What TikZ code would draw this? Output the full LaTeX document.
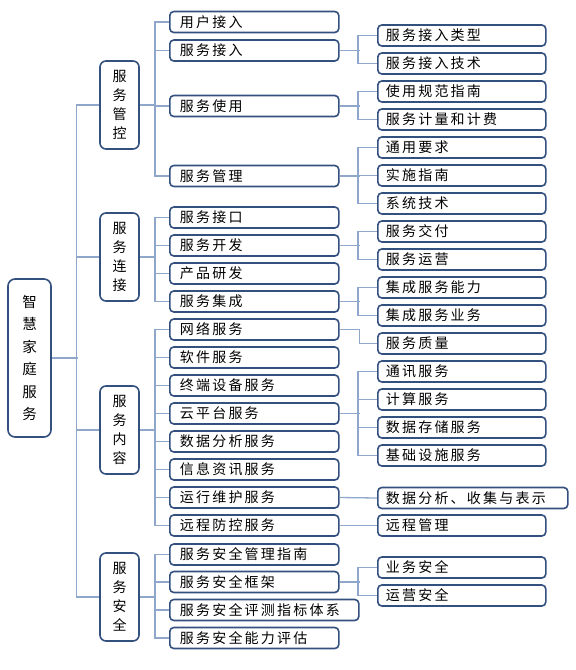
\documentclass[tikz,border=0pt]{standalone}
\usepackage{fontspec}
\newfontfamily\cjk[LetterSpace=16]{Noto Sans CJK SC}
\newfontfamily\cjkv{Noto Sans CJK SC}
\definecolor{boxline}{HTML}{34507F}
\definecolor{connline}{HTML}{8EA7CB}
\begin{document}
\begin{tikzpicture}[x=1pt,y=-1pt,
  basebox/.style={draw=boxline, line width=1.6pt, fill=white, rounded corners=4pt, font=\cjk\fontsize{14}{16}\selectfont, inner ysep=0pt},
  mbox/.style={basebox, anchor=west, minimum height=21pt, text width=149pt, align=left, inner xsep=10pt},
  rbox/.style={basebox, anchor=west, minimum height=21pt, text width=152pt, align=left, inner xsep=8pt},
  gbox/.style={draw=boxline, line width=1.6pt, fill=white, rounded corners=6pt, minimum width=39pt, minimum height=88pt, align=center, inner sep=0pt, font=\cjkv\fontsize{14}{19}\selectfont},
  rootbox/.style={draw=boxline, line width=1.6pt, fill=white, rounded corners=7pt, minimum width=43pt, minimum height=158pt, align=center, inner sep=0pt, font=\cjkv\fontsize{14.5}{22.5}\selectfont},
  conn/.style={draw=connline, line width=1.3pt}
]
\useasboundingbox (0,0) rectangle (576,670);

% root
\node[rootbox] (root) at (29.5,358) {智\\慧\\家\\庭\\服\\务};

% level 1
\node[gbox] (g1) at (119.5,105) {服\\务\\管\\控};
\node[gbox] (g2) at (119.5,257) {服\\务\\连\\接};
\node[gbox] (g3) at (119.5,430) {服\\务\\内\\容};
\node[gbox] (g4) at (119.5,597) {服\\务\\安\\全};

% level 2
\node[mbox] (m1) at (169,22) {用户接入};
\node[mbox] (m2) at (169,50.5) {服务接入};
\node[mbox] (m3) at (169,106) {服务使用};
\node[mbox] (m4) at (169,176) {服务管理};
\node[mbox] (m5) at (169,217.5) {服务接口};
\node[mbox] (m6) at (169,245.5) {服务开发};
\node[mbox] (m7) at (169,273.5) {产品研发};
\node[mbox] (m8) at (169,301.5) {服务集成};
\node[mbox] (m9) at (169,329.5) {网络服务};
\node[mbox] (m10) at (169,357.5) {软件服务};
\node[mbox] (m11) at (169,385.5) {终端设备服务};
\node[mbox] (m12) at (169,413.5) {云平台服务};
\node[mbox] (m13) at (169,441.5) {数据分析服务};
\node[mbox] (m14) at (169,469.5) {信息资讯服务};
\node[mbox] (m15) at (169,497.5) {运行维护服务};
\node[mbox] (m16) at (169,525.5) {远程防控服务};
\node[mbox] (m17) at (169,554.5) {服务安全管理指南};
\node[mbox] (m18) at (169,582) {服务安全框架};
\node[mbox, text width=169pt] (m19) at (169,610) {服务安全评测指标体系};
\node[mbox] (m20) at (169,638) {服务安全能力评估};

% level 3
\node[rbox] (r1) at (377,35.5) {服务接入类型};
\node[rbox] (r2) at (377,63.5) {服务接入技术};
\node[rbox] (r3) at (377,91.5) {使用规范指南};
\node[rbox] (r4) at (377,119.5) {服务计量和计费};
\node[rbox] (r5) at (377,147.5) {通用要求};
\node[rbox] (r6) at (377,175.5) {实施指南};
\node[rbox] (r7) at (377,203.5) {系统技术};
\node[rbox] (r8) at (377,231.5) {服务交付};
\node[rbox] (r9) at (377,259.5) {服务运营};
\node[rbox] (r10) at (377,287.5) {集成服务能力};
\node[rbox] (r11) at (377,315.5) {集成服务业务};
\node[rbox] (r12) at (377,343.5) {服务质量};
\node[rbox] (r13) at (377,371.5) {通讯服务};
\node[rbox] (r14) at (377,399.5) {计算服务};
\node[rbox] (r15) at (377,427.5) {数据存储服务};
\node[rbox] (r16) at (377,455.5) {基础设施服务};
\node[rbox, text width=174pt] (r17) at (377,498) {数据分析、收集与表示};
\node[rbox] (r18) at (377,525.5) {远程管理};
\node[rbox] (r19) at (377,567.5) {业务安全};
\node[rbox] (r20) at (377,595.5) {运营安全};

% root to level 1
\draw[conn] (root.east) -- +(26,0);
\draw[conn] (g1.west) -- +(-23,0) |- (g4.west);
\foreach \g in {g2,g3} \draw[conn] (\g.west) -- +(-23,0);

% level 1 to level 2
\draw[conn] (g1.east) -- +(16,0);
\draw[conn] (m1.west) -- +(-14,0) |- (m4.west);
\foreach \m in {m2,m3} \draw[conn] (\m.west) -- +(-14,0);
\draw[conn] (g2.east) -- +(16,0);
\draw[conn] (m5.west) -- +(-14,0) |- (m8.west);
\foreach \m in {m6,m7} \draw[conn] (\m.west) -- +(-14,0);
\draw[conn] (g3.east) -- +(16,0);
\draw[conn] (m9.west) -- +(-14,0) |- (m16.west);
\foreach \m in {m10,m11,m12,m13,m14,m15} \draw[conn] (\m.west) -- +(-14,0);
\draw[conn] (g4.east) -- +(16,0);
\draw[conn] (m17.west) -- +(-14,0) |- (m20.west);
\foreach \m in {m18,m19} \draw[conn] (\m.west) -- +(-14,0);

% level 2 to level 3
\draw[conn] (m2.east) -- +(20,0);
\draw[conn] (r1.west) -- +(-19,0) |- (r2.west);
\draw[conn] (m3.east) -- +(20,0);
\draw[conn] (r3.west) -- +(-19,0) |- (r4.west);
\draw[conn] (m4.east) -- +(20,0);
\draw[conn] (r5.west) -- +(-19,0) |- (r7.west);
\draw[conn] (r6.west) -- +(-19,0);
\draw[conn] (m6.east) -- +(20,0);
\draw[conn] (r8.west) -- +(-19,0) |- (r9.west);
\draw[conn] (m8.east) -- +(20,0);
\draw[conn] (r10.west) -- +(-19,0) |- (r11.west);
\draw[conn] (m9.east) -- +(20,0) |- (r12.west);
\draw[conn] (m12.east) -- +(20,0);
\draw[conn] (r13.west) -- +(-19,0) |- (r16.west);
\foreach \r in {r14,r15} \draw[conn] (\r.west) -- +(-19,0);
\draw[conn] (m15.east) -- (r17.west);
\draw[conn] (m16.east) -- (r18.west);
\draw[conn] (m18.east) -- +(20,0);
\draw[conn] (r19.west) -- +(-19,0) |- (r20.west);
\end{tikzpicture}
\end{document}
